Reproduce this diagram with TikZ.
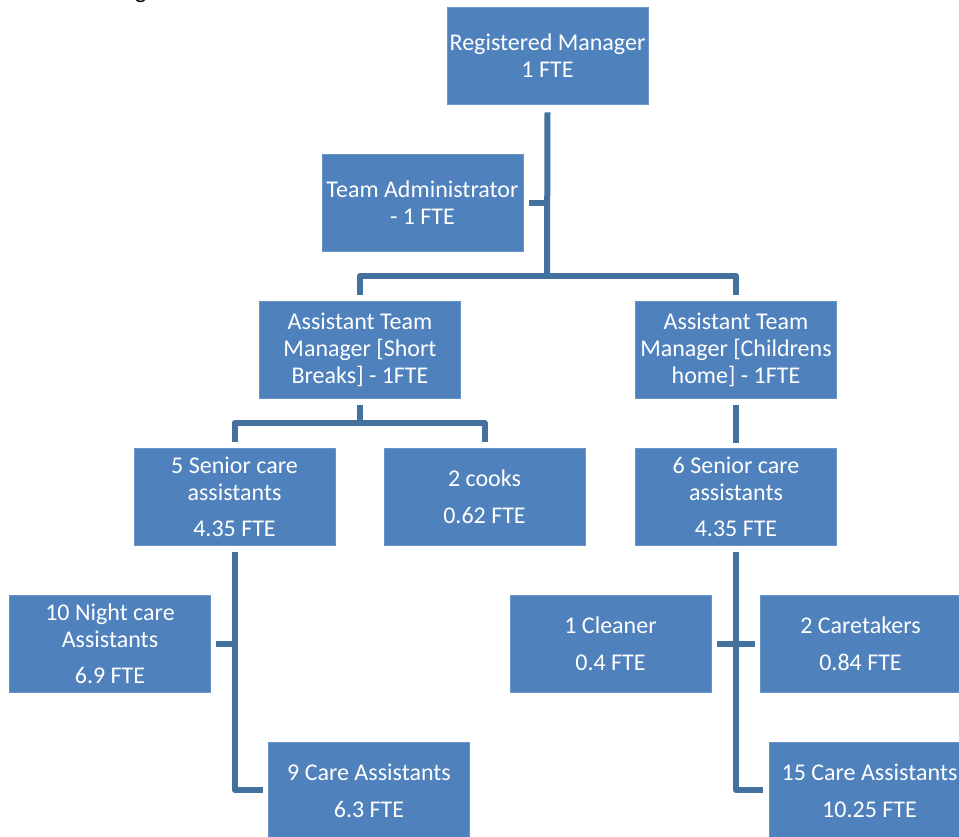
\documentclass[tikz,border=0pt]{standalone}
\usepackage{fontspec}
\setmainfont{Carlito}
\usetikzlibrary{calc}
\definecolor{boxblue}{HTML}{4F81BD}
\definecolor{lineblue}{HTML}{41719C}
\tikzset{
  orgbox/.style={rectangle, fill=boxblue, draw=boxblue!85!white, line width=0.6pt, text=white,
    minimum width=201pt, minimum height=97pt, inner sep=0pt, align=center,
    font=\fontsize{24}{26.7}\selectfont},
  conn/.style={draw=lineblue, line width=6pt, line join=round, line cap=butt}
}
\begin{document}
\begin{tikzpicture}[x=1pt, y=-1pt]
\useasboundingbox (0,0) rectangle (959,836);
\clip (0,0) rectangle (959,836);
\fill[white] (0,0) rectangle (959,836);
% fragment of a heading above the picture
\node[anchor=base west, inner sep=0pt, text=black, font=\fontsize{24}{26.7}\selectfont] (frag) at (135,-1.5) {g};
% boxes
\node[orgbox] (rm) at (547.5,55.5) {Registered Manager\\1 FTE};
\node[orgbox] (ta) at (422.5,202.5) {Team Administrator\\- 1 FTE};
\node[orgbox] (atm1) at (360,350) {Assistant Team\\Manager [Short\\Breaks] - 1FTE};
\node[orgbox] (atm2) at (736,350) {Assistant Team\\Manager [Childrens\\home] - 1FTE};
\node[orgbox] (sen1) at (234.5,497) {5 Senior care\\assistants\\[10pt]4.35 FTE};
\node[orgbox] (cook) at (484.5,497) {2 cooks\\[10pt]0.62 FTE};
\node[orgbox] (sen2) at (736,497) {6 Senior care\\assistants\\[10pt]4.35 FTE};
\node[orgbox] (night) at (110,644) {10 Night care\\Assistants\\[10pt]6.9 FTE};
\node[orgbox] (care1) at (369,791) {9 Care Assistants\\[10pt]6.3 FTE};
\node[orgbox] (clean) at (610.5,644) {1 Cleaner\\[10pt]0.4 FTE};
\node[orgbox] (caret) at (860.5,644) {2 Caretakers\\[10pt]0.84 FTE};
\node[orgbox] (care2) at (869.5,791) {15 Care Assistants\\[10pt]10.25 FTE};
% helper coordinates
\coordinate (bar1) at (547,276);
\coordinate (bar2) at (360,423);
\coordinate (elbow1) at (235,790);
\coordinate (elbow2) at (736,790);
% connectors
\draw[conn] ($(rm.south)+(0,8)$) -- (bar1);
\draw[conn] ($(ta.east)+(6,0)$) -- (ta.east -| bar1);
\draw[conn] ($(atm1.north)+(0,-6)$) |- (bar1) -| ($(atm2.north)+(0,-6)$);
\draw[conn] ($(atm1.south)+(0,6)$) -- (bar2);
\draw[conn] ($(sen1.north)+(0,-6)$) |- (bar2) -| ($(cook.north)+(0,-6)$);
\draw[conn] ($(atm2.south)+(0,6)$) -- ($(sen2.north)+(0,-5)$);
\draw[conn] ($(sen1.south)+(0.5,6)$) -- (elbow1) -- ($(care1.west)+(-5,-1)$);
\draw[conn] ($(night.east)+(5,0)$) -- (night.east -| elbow1);
\draw[conn] ($(sen2.south)+(0,6)$) -- (elbow2) -- ($(care2.west)+(-6,-1)$);
\draw[conn] ($(clean.east)+(6,0)$) -- ($(caret.west)+(-5,0)$);
\end{tikzpicture}
\end{document}
